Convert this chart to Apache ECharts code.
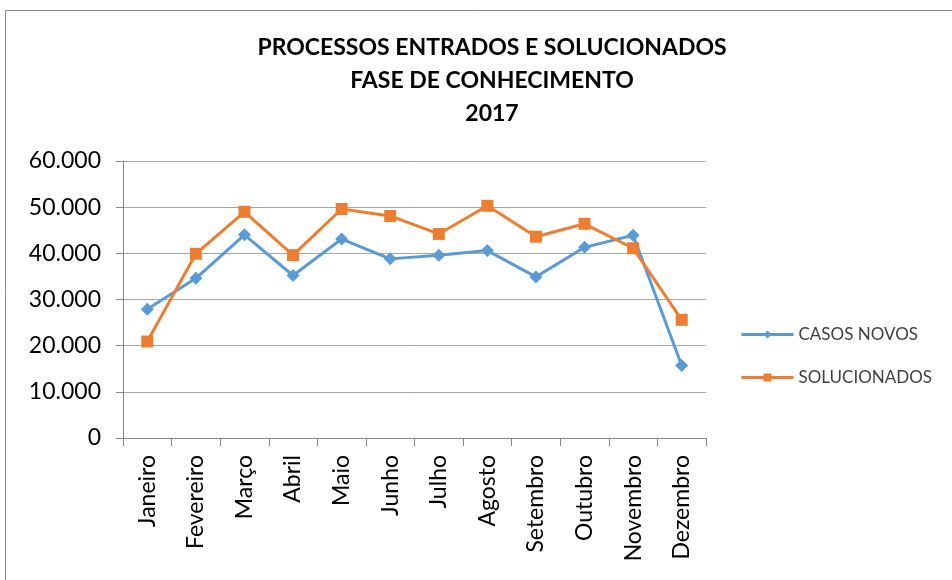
<!DOCTYPE html>
<html>
<head>
<meta charset="utf-8">
<script src="https://cdn.jsdelivr.net/npm/echarts@6/dist/echarts.min.js"></script>
<style>
  html, body { margin: 0; padding: 0; background: #fff; }
  #main { width: 952px; height: 580px; }
</style>
</head>
<body>
<div id="main"></div>
<script>
// dados
var meses = ['Janeiro', 'Fevereiro', 'Março', 'Abril', 'Maio', 'Junho', 'Julho', 'Agosto', 'Setembro', 'Outubro', 'Novembro', 'Dezembro'];
var casosNovos = [27900, 34600, 44000, 35200, 43100, 38800, 39600, 40600, 34900, 41300, 43900, 15700];
var solucionados = [20900, 39900, 49000, 39600, 49600, 48100, 44200, 50300, 43600, 46400, 41100, 25600];
var titulo = 'PROCESSOS ENTRADOS E SOLUCIONADOS\nFASE DE CONHECIMENTO\n2017';

var fonte = "Lato, 'Liberation Sans', sans-serif";

var chart = echarts.init(document.getElementById('main'));

function fmt(v) {
  if (v === 0) return '0';
  return String(v).replace(/\B(?=(\d{3})+(?!\d))/g, '.');
}

var option = {
  animation: false,
  color: ['#5B9BD5', '#ED7D31'],
  graphic: [{
    type: 'rect',
    shape: { x: 5.5, y: 10.5, width: 960, height: 600 },
    style: { fill: 'none', stroke: '#8c8c8c', lineWidth: 1 }
  }],
  title: {
    text: titulo,
    left: 487,
    top: 26,
    textAlign: 'center',
    textStyle: {
      fontFamily: fonte,
      fontSize: 23,
      fontWeight: 'bold',
      color: '#000',
      lineHeight: 33
    }
  },
  legend: {
    orient: 'vertical',
    left: 735,
    top: 321,
    itemWidth: 52,
    itemHeight: 10,
    itemGap: 26,
    lineStyle: { width: 3 },
    textStyle: {
      fontFamily: fonte,
      fontSize: 17,
      color: '#404040'
    },
    data: ['CASOS NOVOS', 'SOLUCIONADOS']
  },
  grid: {
    left: 123,
    right: 246,
    top: 161,
    bottom: 142
  },
  xAxis: {
    type: 'category',
    data: meses,
    boundaryGap: true,
    axisLine: { lineStyle: { color: '#868686', width: 1 } },
    axisTick: { show: true, length: 8, inside: false, lineStyle: { color: '#868686' } },
    axisLabel: {
      interval: 0,
      rotate: 90,
      margin: 17,
      fontFamily: fonte,
      fontSize: 23,
      color: '#000'
    }
  },
  yAxis: {
    type: 'value',
    min: 0,
    max: 60000,
    interval: 10000,
    axisLine: { show: true, lineStyle: { color: '#868686', width: 1 } },
    axisTick: { show: true, length: 7, lineStyle: { color: '#868686' } },
    splitLine: { lineStyle: { color: '#a6a6a6', width: 1 } },
    axisLabel: {
      margin: 22,
      fontFamily: fonte,
      fontSize: 23,
      color: '#000',
      formatter: fmt
    }
  },
  series: [{
    name: 'CASOS NOVOS',
    type: 'line',
    data: casosNovos,
    symbol: 'diamond',
    symbolSize: 13,
    lineStyle: { width: 3 },
    itemStyle: { color: '#5B9BD5' }
  }, {
    name: 'SOLUCIONADOS',
    type: 'line',
    data: solucionados,
    symbol: 'rect',
    symbolSize: 12,
    lineStyle: { width: 3 },
    itemStyle: { color: '#ED7D31' }
  }]
};

chart.setOption(option);
</script>
</body>
</html>
